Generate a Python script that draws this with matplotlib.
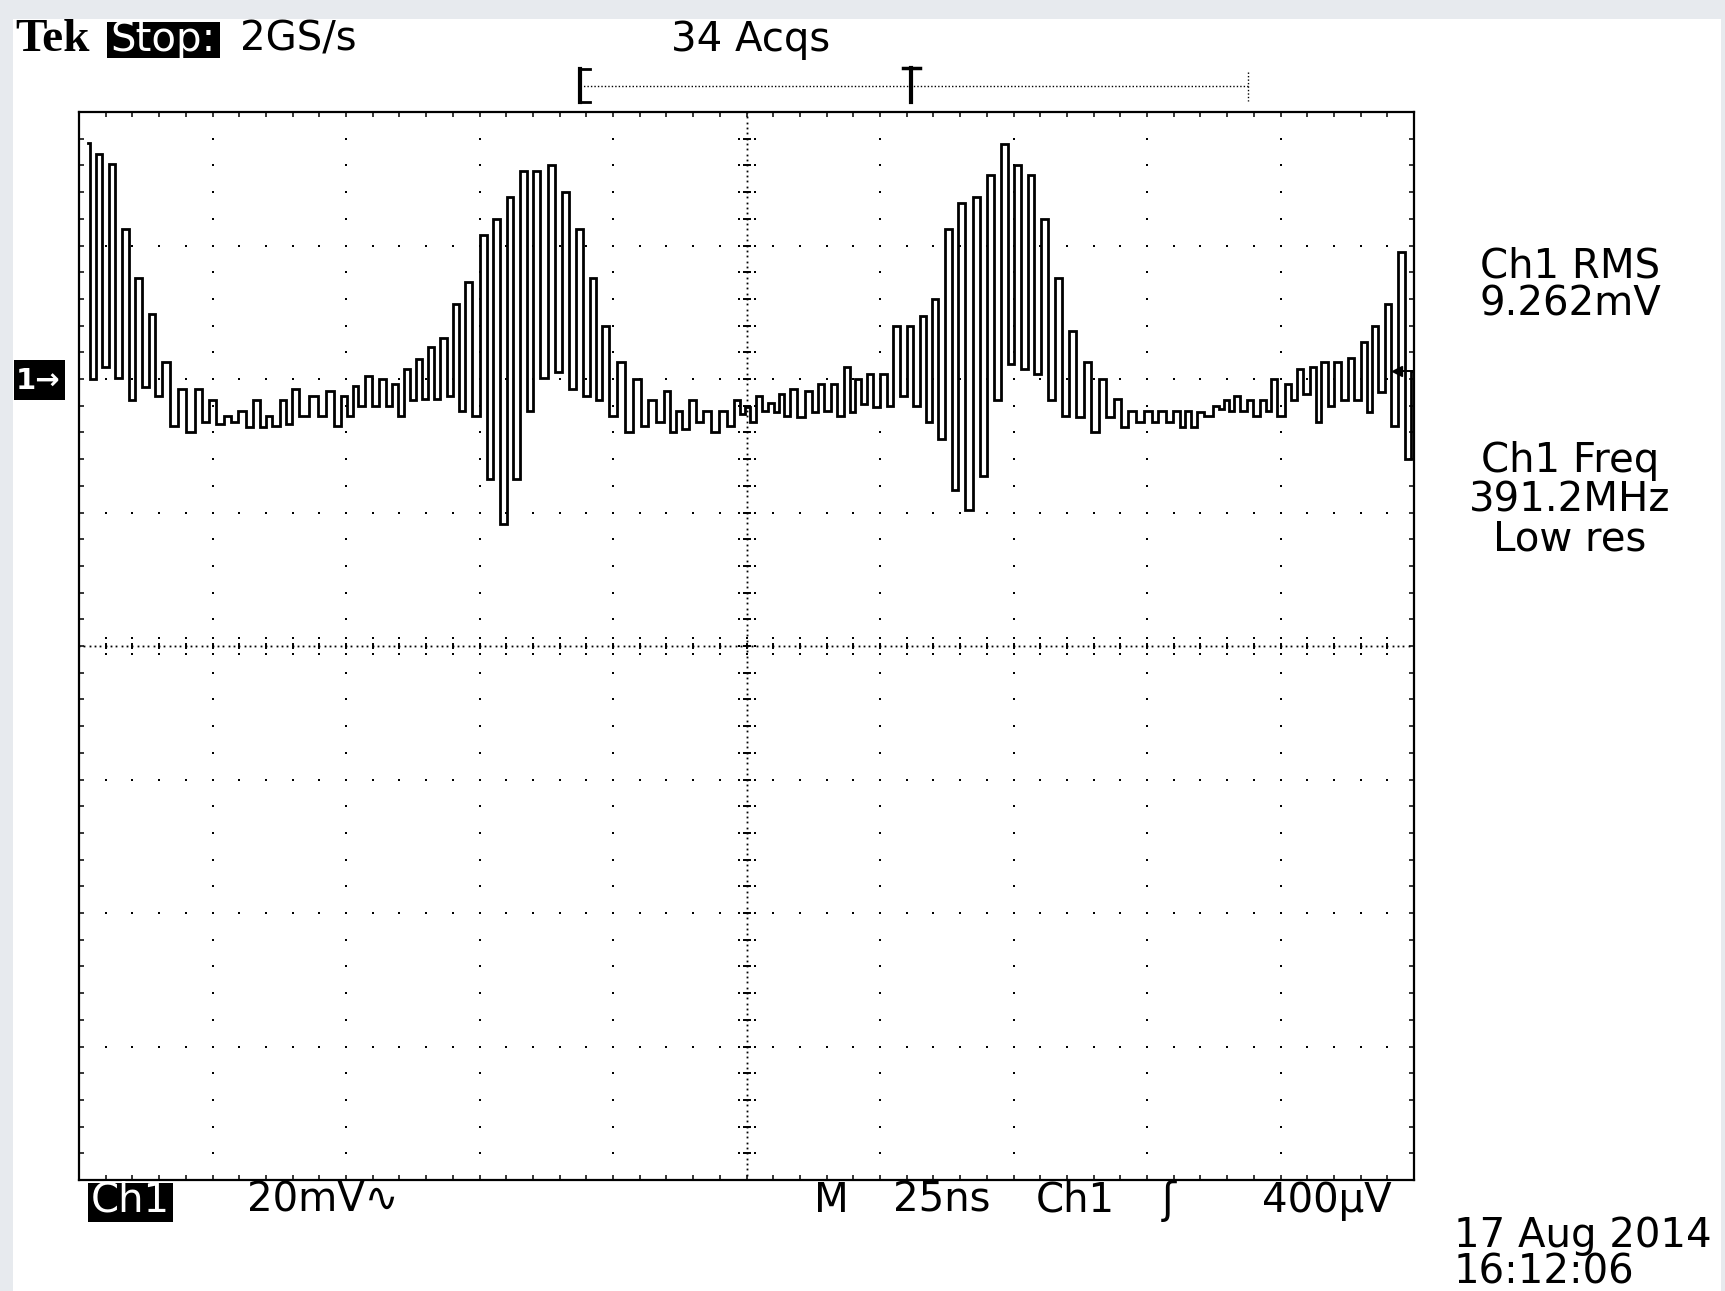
import numpy as np
import matplotlib.pyplot as plt
from matplotlib.patches import Rectangle
from matplotlib.lines import Line2D

W_PX, H_PX = 1725, 1291
DPI = 100

# scope settings
V_DIV = 20.0      # mV / div
T_DIV = 25.0      # ns / div
GND_DIV = 2.0     # "1->" marker, divisions above centre
N_XDIV, N_YDIV = 10, 8

# ringing trace, one entry per cycle (time of crest, crest, following trough)
peak_t = [1.6, 3.8, 6.2, 8.7, 11.2, 13.7, 16.2, 19.2, 22.5, 25.0,
          27.9, 30.5, 33.3, 35.5, 38.3, 40.3, 43.9, 47.0, 49.8, 51.7,
          54.2, 56.8, 59.2, 61.4, 63.7, 65.9, 68.2, 70.7, 72.9, 75.7,
          78.2, 80.7, 83.2, 85.7, 88.5, 91.1, 93.8, 96.3, 98.6, 101.5,
          104.6, 107.3, 110.2, 112.4, 114.8, 117.6, 120.7, 123.2, 125.2, 127.2,
          129.7, 131.5, 133.8, 136.6, 139.0, 141.4, 143.8, 145.9, 148.1, 150.6,
          153.1, 155.6, 158.1, 160.3, 162.8, 165.2, 168.1, 170.6, 173.3, 175.8,
          178.3, 180.8, 183.4, 186.0, 188.9, 191.6, 194.5, 197.1, 200.2, 202.8,
          205.6, 207.7, 209.9, 213.1, 214.9, 216.8, 219.3, 221.8, 223.7, 226.5,
          228.7, 231.1, 233.2, 235.7, 238.2, 240.7, 242.7, 245.1, 247.7]
peak_mv = [35.4, 33.7, 32.2, 22.5, 15.2, 9.7, 2.5, -1.5, -1.5, -3.2,
           -5.5, -4.8, -3.2, -5.5, -3.2, -1.5, -2.5, -1.8, -2.5, -1.0,
           0.5, 0.0, -0.8, 1.5, 3.0, 4.8, 6.2, 11.2, 14.5, 21.5,
           24.0, 27.2, 31.2, 31.2, 32.1, 28.0, 22.5, 15.2, 8.0, 2.5,
           0.0, -3.2, -1.8, -4.8, -3.2, -4.8, -4.8, -3.2, -4.2, -2.5,
           -3.6, -2.2, -1.5, -1.8, -0.8, -0.8, 1.8, 0.0, 0.8, 0.8,
           8.0, 8.0, 9.5, 12.0, 22.5, 26.4, 27.2, 30.5, 35.2, 32.1,
           30.5, 24.0, 15.2, 7.2, 2.5, 0.0, -3.0, -4.8, -4.8, -4.8,
           -4.8, -4.8, -5.0, -4.0, -3.2, -2.5, -3.2, -3.2, 0.0, -0.8,
           1.5, 1.8, 2.5, 2.5, 3.2, 5.5, 8.0, 11.2, 19.0]
trough_mv = [0.0, 1.8, 0.2, -3.2, -1.2, -2.5, -7.0, -8.0, -6.5, -6.7,
             -6.5, -7.2, -7.2, -7.0, -6.7, -5.5, -5.5, -7.0, -5.5, -4.0,
             -4.0, -4.0, -5.5, -3.2, -3.0, -3.0, -2.5, -4.8, -5.5, -15.0,
             -21.7, -15.0, -4.8, 0.2, 1.0, -1.5, -2.5, -3.2, -5.5, -8.0,
             -7.0, -6.5, -8.0, -7.5, -6.5, -8.0, -7.0, -5.2, -6.5, -4.8,
             -4.9, -5.5, -5.7, -5.0, -4.8, -5.5, -5.0, -3.8, -4.2, -4.0,
             -2.5, -4.0, -6.5, -9.0, -16.7, -19.7, -14.5, -3.2, 2.2, 1.5,
             0.8, -3.2, -5.5, -5.7, -8.0, -5.7, -7.2, -6.5, -6.5, -6.5,
             -7.2, -7.2, -5.5, -4.5, -4.8, -4.8, -5.5, -4.8, -5.5, -3.2,
             -2.2, -6.5, -4.0, -3.2, -3.2, -5.0, -2.0, -7.0, -12.0]
end_mv = 1.2
trig_mv = 1.2

BG = "#e7eaee"
FONT = "DejaVu Sans"
FS = 29

fig = plt.figure(figsize=(W_PX / DPI, H_PX / DPI), dpi=DPI, facecolor=BG)


def fx(x):
    return x / W_PX


def fy(y):
    return 1 - y / H_PX


def ftext(x, y, s, **kw):
    kw.setdefault("fontsize", FS)
    kw.setdefault("family", FONT)
    kw.setdefault("va", "center")
    return fig.text(fx(x), fy(y), s, **kw)


def fbox(x0, y0, x1, y1, color="black", z=1):
    fig.patches.append(Rectangle((fx(x0), fy(y1)), fx(x1) - fx(x0), fy(y0) - fy(y1),
                                 transform=fig.transFigure, facecolor=color,
                                 edgecolor="none", zorder=z))


def fline(xs, ys, **kw):
    fig.lines.append(Line2D([fx(v) for v in xs], [fy(v) for v in ys],
                            transform=fig.transFigure, **kw))


# white screen area inside the light grey window border
fbox(13, 19, 1721, 1291, color="white", z=-10)

# ============================================================
# GRATICULE
# ============================================================
L, R, T, B = 79, 1414, 112, 1180
ax = fig.add_axes([fx(L), fy(B), fx(R) - fx(L), fy(T) - fy(B)])
ax.set_facecolor("white")

x0, x1 = 0, N_XDIV * T_DIV
y0, y1 = (-N_YDIV / 2 - GND_DIV) * V_DIV, (N_YDIV / 2 - GND_DIV) * V_DIV
ax.set_xlim(x0, x1)
ax.set_ylim(y0, y1)
y_mid = (y0 + y1) / 2
x_mid = (x0 + x1) / 2

dot = dict(ls="none", marker="s", ms=1.6, mew=0, color="black", zorder=1)

sub_x = np.arange(x0, x1 + 0.01, T_DIV / 5)
sub_y = np.arange(y0, y1 + 0.01, V_DIV / 5)
for gx in np.arange(x0 + T_DIV, x1, T_DIV):
    if np.isclose(gx, x_mid):
        continue
    ax.plot(np.full_like(sub_y, gx), sub_y, **dot)
for gy in np.arange(y0 + V_DIV, y1, V_DIV):
    if np.isclose(gy, y_mid):
        continue
    ax.plot(sub_x, np.full_like(sub_x, gy), **dot)

# centre cross: fine dots + ticks every 0.2 div
fine_x = np.arange(x0, x1 + 0.01, T_DIV / 25)
fine_y = np.arange(y0, y1 + 0.01, V_DIV / 25)
ax.plot(fine_x, np.full_like(fine_x, y_mid), ls="none", marker="s", ms=1.3, mew=0,
        color="black", zorder=1)
ax.plot(np.full_like(fine_y, x_mid), fine_y, ls="none", marker="s", ms=1.3, mew=0,
        color="black", zorder=1)
off_v = 8 / 133.5 * V_DIV
off_t = 8 / 133.5 * T_DIV
for gx in sub_x:
    ax.plot([gx, gx], [y_mid - off_v, y_mid + off_v], **dot)
    ax.plot([gx, gx], [y_mid - off_v * 0.4, y_mid + off_v * 0.4], color="black",
            lw=1.4, zorder=1, solid_capstyle="butt")
for gy in sub_y:
    ax.plot([x_mid - off_t, x_mid + off_t], [gy, gy], **dot)
    ax.plot([x_mid - off_t * 0.5, x_mid + off_t * 0.5], [gy, gy], color="black",
            lw=1.4, zorder=1, solid_capstyle="butt")

ax.set_xticks(np.arange(x0, x1 + 0.01, T_DIV))
ax.set_xticks(sub_x, minor=True)
ax.set_yticks(np.arange(y0, y1 + 0.01, V_DIV))
ax.set_yticks(sub_y, minor=True)
ax.tick_params(which="both", direction="in", top=True, right=True, length=3.5,
               width=1.1, labelbottom=False, labelleft=False)
for s in ax.spines.values():
    s.set_linewidth(1.6)

# ============================================================
# TRACE
# ============================================================
pt = np.array(peak_t)
trough_t = np.append((pt[:-1] + pt[1:]) / 2, pt[-1] + 1.3)
xs = np.empty(2 * len(pt) + 1)
ys = np.empty(2 * len(pt) + 1)
xs[0:-1:2], xs[1:-1:2], xs[-1] = pt, trough_t, x1
ys[0:-1:2], ys[1:-1:2], ys[-1] = peak_mv, trough_mv, end_mv

ax.plot(xs, ys, drawstyle="steps-mid", color="black", lw=2.0, zorder=3,
        solid_joinstyle="miter")

# trigger level marker at right edge
ax.plot([x1 - 3.5, x1], [trig_mv, trig_mv], color="black", lw=1.4, zorder=5,
        clip_on=False)
ax.plot([x1 - 3.2], [trig_mv], marker="<", ms=7, color="black", zorder=5)

# ============================================================
# SCREEN TEXT
# ============================================================
ftext(15, 40, "Tek", family="Liberation Serif", weight="bold", fontsize=34)
fbox(107, 22, 220, 58)
ftext(110, 40, "Stop:", color="white")
ftext(240, 40, "2GS/s")
ftext(671, 40, "34 Acqs")

# record position bar
fline([580, 1248], [86, 86], color="black", lw=1.0, ls=(0, (1, 1.5)))
fline([580, 580], [69, 102], color="black", lw=3.0)
fline([580, 590], [69, 69], color="black", lw=2.0)
fline([580, 590], [102, 102], color="black", lw=2.0)
fline([911, 911], [68, 102], color="black", lw=3.0)
fline([903, 920], [68, 68], color="black", lw=2.5)
fline([1248, 1248], [72, 101], color="black", lw=1.0, ls=(0, (1, 1.5)))

# channel marker
fbox(14, 360, 65, 400)
ftext(16, 381, "1→", color="white", fontsize=21, weight="bold")

# measurements
ftext(1570, 266, "Ch1 RMS", ha="center")
ftext(1570, 304, "9.262mV", ha="center")
ftext(1570, 461, "Ch1 Freq", ha="center")
ftext(1570, 500, "391.2MHz", ha="center")
ftext(1570, 539, "Low res", ha="center")

# bottom status line
fbox(88, 1183, 173, 1222)
ftext(91, 1201, "Ch1", color="white")
ftext(247, 1201, "20mV∿")
ftext(814, 1201, "M")
ftext(893, 1201, "25ns")
ftext(1036, 1201, "Ch1")
ftext(1162, 1201, "ʃ", fontsize=30)
ftext(1262, 1201, "400µV")
ftext(1454, 1236, "17 Aug 2014")
ftext(1454, 1273, "16:12:06")

fig.savefig("out.png", dpi=DPI, facecolor=BG)
